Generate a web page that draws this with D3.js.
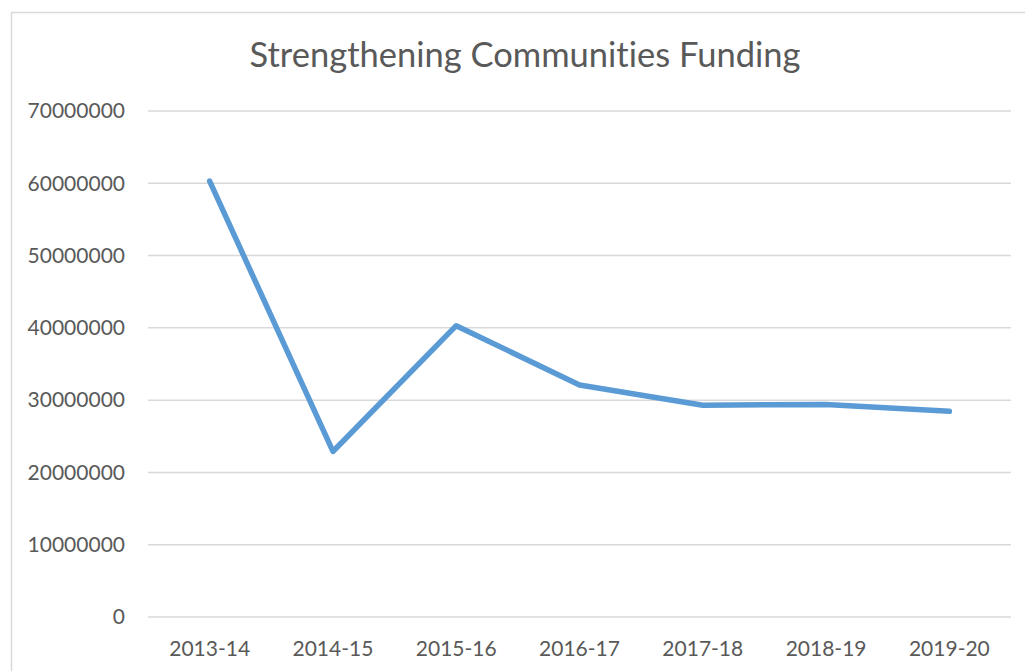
<!DOCTYPE html>
<html lang="en">
<head>
    <meta charset="UTF-8">
    <title>Strengthening Communities Funding</title>
    <script src="https://d3js.org/d3.v7.min.js"></script>
    <style>
        body {
            margin: 0;
            padding: 0;
            background: #fff;
            font-family: Lato, "Open Sans", sans-serif;
        }
        svg { display: block; }
        text { font-variant-ligatures: none; }
    </style>
</head>
<body>
    <svg id="chart" width="1025" height="671"></svg>

    <script>
        // data
        const years = ["2013-14", "2014-15", "2015-16", "2016-17", "2017-18", "2018-19", "2019-20"];
        const funding = [60300000, 22900000, 40300000, 32100000, 29300000, 29400000, 28450000];
        const yTicks = [0, 10000000, 20000000, 30000000, 40000000, 50000000, 60000000, 70000000];

        const svg = d3.select("#chart");
        const width = +svg.attr("width");
        const height = +svg.attr("height");

        const margin = { top: 111, right: 14, bottom: 54, left: 148 };
        const innerWidth = 1011 - margin.left;
        const innerHeight = 617 - margin.top;

        const textColor = "#595959";
        const gridColor = "#d9d9d9";

        // outer chart border (only top and left edges are in view)
        svg.append("path")
            .attr("d", `M11.5,${height} V12.5 H${width}`)
            .attr("fill", "none")
            .attr("stroke", gridColor)
            .attr("stroke-width", 1.5);

        svg.append("text")
            .attr("x", 525)
            .attr("y", 67)
            .attr("text-anchor", "middle")
            .attr("fill", textColor)
            .style("font-size", "34.5px")
            .text("Strengthening Communities Funding");

        const g = svg.append("g").attr("transform", `translate(${margin.left},${margin.top})`);

        const x = d3.scaleBand().domain(years).range([0, innerWidth]);
        const y = d3.scaleLinear().domain([0, 70000000]).range([innerHeight, 0]);

        // gridlines
        g.append("g")
            .selectAll("line")
            .data(yTicks)
            .join("line")
            .attr("x1", 0)
            .attr("x2", innerWidth)
            .attr("y1", d => y(d))
            .attr("y2", d => y(d))
            .attr("stroke", gridColor)
            .attr("stroke-width", 1.5);

        // y axis labels
        const yAxis = g.append("g")
            .call(d3.axisLeft(y).tickValues(yTicks).tickFormat(d3.format("d")).tickSize(0).tickPadding(23));
        yAxis.select(".domain").remove();
        yAxis.selectAll("text")
            .attr("fill", textColor)
            .style("font-family", "Lato, sans-serif")
            .style("font-size", "21px");

        // x axis labels
        const xAxis = g.append("g")
            .attr("transform", `translate(0,${innerHeight})`)
            .call(d3.axisBottom(x).tickSize(0).tickPadding(24));
        xAxis.select(".domain").remove();
        xAxis.selectAll("text")
            .attr("fill", textColor)
            .style("font-family", "Lato, sans-serif")
            .style("font-size", "21px");

        const line = d3.line()
            .x((d, i) => x(years[i]) + x.bandwidth() / 2)
            .y(d => y(d));

        g.append("path")
            .datum(funding)
            .attr("d", line)
            .attr("fill", "none")
            .attr("stroke", "#5b9bd5")
            .attr("stroke-width", 5.5)
            .attr("stroke-linecap", "round")
            .attr("stroke-linejoin", "round");
    </script>
</body>
</html>
